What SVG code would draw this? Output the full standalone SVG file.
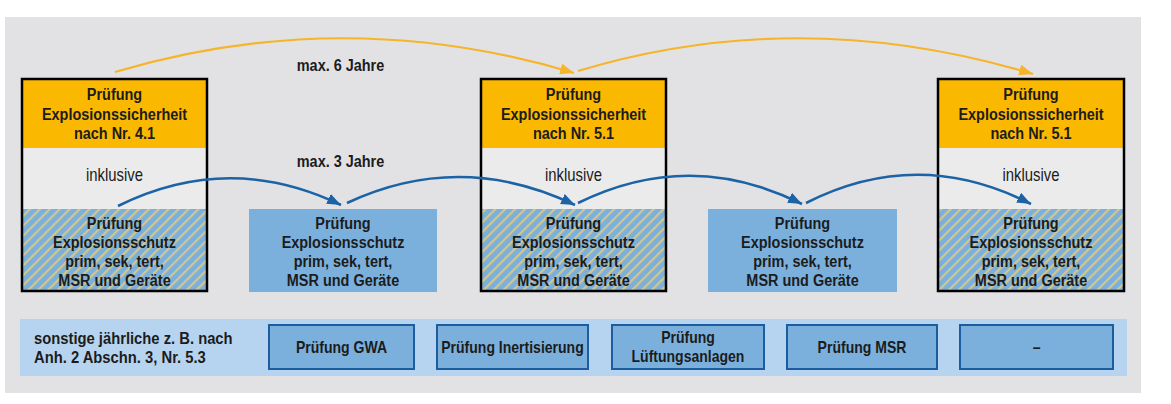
<svg xmlns="http://www.w3.org/2000/svg" width="1171" height="404" viewBox="0 0 1171 404">
<style>
  .t{font-family:"Liberation Sans",Arial,sans-serif;fill:#1c1c1c;text-anchor:middle;transform-box:fill-box;transform-origin:center;transform:scaleX(0.85)}
  .b{font-weight:bold;font-size:17px}
  .s{font-weight:bold;font-size:16.5px}
  .r{font-weight:normal;font-size:17.5px}
  .t.l{text-anchor:start;transform-origin:left center;font-size:17.4px}
  .orange{fill:#fbb800}
  .incl{fill:#ebebeb}
  .hatch{fill:url(#hatch)}
  .blue{fill:#7bb0dc}
  .frame{fill:none;stroke:#000;stroke-width:2.5}
  .sb{fill:#7bb0dc;stroke:#1b5d9e;stroke-width:2}
  .ba{fill:none;stroke:#1c63a6;stroke-width:2.6}
  .oa{fill:none;stroke:#f6b42a;stroke-width:2.2}
</style>
<defs>
  <pattern id="hatch" patternUnits="userSpaceOnUse" width="7" height="7" patternTransform="rotate(45)">
    <rect width="7" height="7" fill="#7bb0dc"/>
    <rect x="0" width="2.2" height="7" fill="#d3c68c"/>
  </pattern>
  <marker id="ab" markerUnits="userSpaceOnUse" markerWidth="15" markerHeight="11" refX="14" refY="5.5" orient="auto">
    <path d="M0,0 L14,5.5 L0,11 z" fill="#1c63a6"/>
  </marker>
  <marker id="ao" markerUnits="userSpaceOnUse" markerWidth="15" markerHeight="11" refX="14" refY="5.5" orient="auto">
    <path d="M0,0 L14,5.5 L0,11 z" fill="#f6b42a"/>
  </marker>
</defs>

<rect x="5" y="17" width="1136" height="376" fill="#e2e2e4"/>

<g id="node-1">
  <rect class="orange" x="22" y="79" width="185" height="69"/>
  <rect class="incl" x="22" y="148" width="185" height="61"/>
  <rect class="hatch" x="22" y="209" width="185" height="82"/>
  <rect class="frame" x="22" y="79" width="185" height="212"/>
  <text class="t b" x="114.5" y="100">Prüfung</text>
  <text class="t b" x="114.5" y="120">Explosionssicherheit</text>
  <text class="t b" x="114.5" y="139.5">nach Nr. 4.1</text>
  <text class="t r" x="114.5" y="181">inklusive</text>
  <text class="t b" x="114.5" y="229">Prüfung</text>
  <text class="t b" x="114.5" y="248">Explosionsschutz</text>
  <text class="t b" x="114.5" y="267">prim, sek, tert,</text>
  <text class="t b" x="114.5" y="286">MSR und Geräte</text>
</g>

<g id="node-2">
  <rect class="blue" x="249" y="209" width="188" height="83"/>
  <text class="t b" x="343" y="229">Prüfung</text>
  <text class="t b" x="343" y="248">Explosionsschutz</text>
  <text class="t b" x="343" y="267">prim, sek, tert,</text>
  <text class="t b" x="343" y="286">MSR und Geräte</text>
</g>

<g id="node-3">
  <rect class="orange" x="481" y="79" width="185" height="69"/>
  <rect class="incl" x="481" y="148" width="185" height="61"/>
  <rect class="hatch" x="481" y="209" width="185" height="82"/>
  <rect class="frame" x="481" y="79" width="185" height="212"/>
  <text class="t b" x="573.5" y="100">Prüfung</text>
  <text class="t b" x="573.5" y="120">Explosionssicherheit</text>
  <text class="t b" x="573.5" y="139.5">nach Nr. 5.1</text>
  <text class="t r" x="573.5" y="181">inklusive</text>
  <text class="t b" x="573.5" y="229">Prüfung</text>
  <text class="t b" x="573.5" y="248">Explosionsschutz</text>
  <text class="t b" x="573.5" y="267">prim, sek, tert,</text>
  <text class="t b" x="573.5" y="286">MSR und Geräte</text>
</g>

<g id="node-4">
  <rect class="blue" x="708" y="209" width="189" height="83"/>
  <text class="t b" x="802.5" y="229">Prüfung</text>
  <text class="t b" x="802.5" y="248">Explosionsschutz</text>
  <text class="t b" x="802.5" y="267">prim, sek, tert,</text>
  <text class="t b" x="802.5" y="286">MSR und Geräte</text>
</g>

<g id="node-5">
  <rect class="orange" x="938" y="79" width="186" height="69"/>
  <rect class="incl" x="938" y="148" width="186" height="61"/>
  <rect class="hatch" x="938" y="209" width="186" height="82"/>
  <rect class="frame" x="938" y="79" width="186" height="212"/>
  <text class="t b" x="1031" y="100">Prüfung</text>
  <text class="t b" x="1031" y="120">Explosionssicherheit</text>
  <text class="t b" x="1031" y="139.5">nach Nr. 5.1</text>
  <text class="t r" x="1031" y="181">inklusive</text>
  <text class="t b" x="1031" y="229">Prüfung</text>
  <text class="t b" x="1031" y="248">Explosionsschutz</text>
  <text class="t b" x="1031" y="267">prim, sek, tert,</text>
  <text class="t b" x="1031" y="286">MSR und Geräte</text>
</g>

<g id="connectors">
  <path class="oa" d="M115,72 Q345,4 574,73" marker-end="url(#ao)"/>
  <path class="oa" d="M578,71 Q800,4 1033,74" marker-end="url(#ao)"/>
  <path class="ba" d="M118,206 Q229,151 341,205" marker-end="url(#ab)"/>
  <path class="ba" d="M347,203 Q460,150 575,205" marker-end="url(#ab)"/>
  <path class="ba" d="M578,203 Q690,148 802,204" marker-end="url(#ab)"/>
  <path class="ba" d="M806,203 Q918,146 1031,204" marker-end="url(#ab)"/>
  <text class="t b" x="340.5" y="71">max. 6 Jahre</text>
  <text class="t b" x="340.5" y="167">max. 3 Jahre</text>
</g>

<g id="annual">
  <rect x="20" y="319" width="1107" height="57" fill="#b6d4ef"/>
  <text class="t s l" x="34" y="344">sonstige jährliche z. B. nach</text>
  <text class="t s l" x="34" y="363">Anh. 2 Abschn. 3, Nr. 5.3</text>
  <g id="box-gwa">
    <rect class="sb" x="269" y="325" width="145" height="44"/>
    <text class="t s" x="341.5" y="353">Prüfung GWA</text>
  </g>
  <g id="box-inert">
    <rect class="sb" x="437" y="325" width="151" height="44"/>
    <text class="t s" x="512.5" y="353">Prüfung Inertisierung</text>
  </g>
  <g id="box-lueft">
    <rect class="sb" x="612" y="325" width="152" height="44"/>
    <text class="t s" x="688" y="343">Prüfung</text>
    <text class="t s" x="688" y="362">Lüftungsanlagen</text>
  </g>
  <g id="box-msr">
    <rect class="sb" x="787" y="325" width="150" height="44"/>
    <text class="t s" x="862" y="353">Prüfung MSR</text>
  </g>
  <g id="box-dash">
    <rect class="sb" x="960" y="325" width="153" height="44"/>
    <text class="t s" x="1036.5" y="353">–</text>
  </g>
</g>
</svg>
